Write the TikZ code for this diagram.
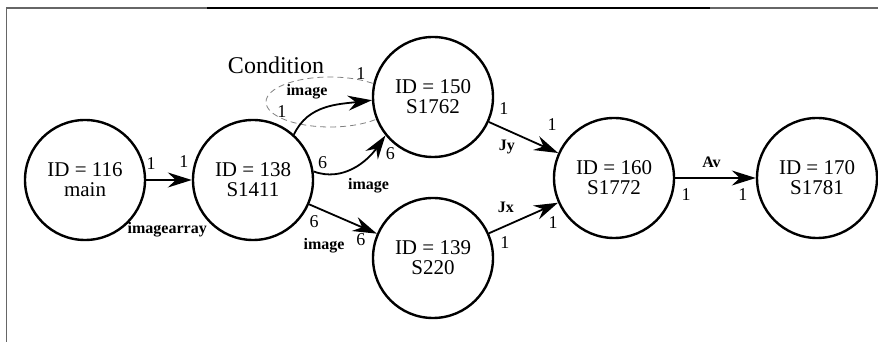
\documentclass[tikz,border=0pt]{standalone}
\usepackage{fontspec}
\setmainfont{Liberation Serif}
\usetikzlibrary{arrows.meta, automata, shapes.geometric}

\begin{document}
\begin{tikzpicture}[
            x = 0.5pt, y = 0.5pt, % picture units
            > = {Stealth[length=12pt, width=7.5pt, inset=4pt]}, % arrow head style
            every edge/.style = {draw, line width=0.9pt}, % connector style
            num/.style = {font=\fontsize{9}{9}\selectfont, inner sep=0pt},
            lbl/.style = {font=\fontsize{8}{8}\selectfont\bfseries, inner sep=0pt}
        ]

        \tikzstyle{every state}=[
            draw = black,
            line width = 1.2pt,
            fill = white,
            minimum size = 60pt,
            inner sep = 0pt,
            align = center,
            font = \fontsize{10.5}{10}\selectfont
        ]

        \useasboundingbox (0,0) rectangle (878,342);

        % frame
        \draw[black!60, line width=0.8pt] (6.5,0) -- (6.5,334) -- (878,334);
        \draw[black, line width=0.9pt] (207,334) -- (710,334);

        % condition region
        \node[ellipse, draw=gray, densely dashed, line width=0.4pt,
              minimum width=64pt, minimum height=25pt] (cond) at (330,240) {};
        \node[font=\fontsize{12}{12}\selectfont] (condname) at (276,277) {Condition};

        \node[state] (s116) at (85,162) {ID = 116\\main};
        \node[state] (s138) at (253,162) {ID = 138\\S1411};
        \node[state] (s150) at (433,245) {ID = 150\\S1762};
        \node[state] (s139) at (433,84) {ID = 139\\S220};
        \node[state] (s160) at (614,164) {ID = 160\\S1772};
        \node[state] (s170) at (817,164) {ID = 170\\S1781};

        \path[->] (s116) edge node[num, at start, shift={(5,16)}] (a1) {1}
                              node[num, at end, shift={(-8,18)}] (a2) {1}
                              node[lbl, at start, shift={(21,-50)}] (a3) {imagearray} (s138);
        \path[->] (s138.48) edge[out=65, in=187]
                              node[num, at start, shift={(-12,23)}] (b1) {1}
                              node[lbl, at start, shift={(13,43)}] (b2) {image}
                              node[num, at end, shift={(-11,27)}] (b3) {1} (s150.183);
        \path[->] (s138.8) edge[out=-20, in=235]
                              node[num, at start, shift={(9,9)}] (c1) {6}
                              node[lbl, at start, shift={(55,-14)}] (c2) {image}
                              node[num, at end, shift={(5,-18)}] (c3) {6} (s150.219);
        \path[->] (s138) edge node[num, at start, shift={(5,-17)}] (d1) {6}
                              node[lbl, at start, shift={(15,-41)}] (d2) {image}
                              node[num, at end, shift={(-16,-6)}] (d3) {6} (s139);
        \path[->] (s150) edge node[num, at start, shift={(15,13)}] (e1) {1}
                              node[lbl, at start, shift={(18,-25)}] (e2) {Jy}
                              node[num, at end, shift={(-6,28)}] (e3) {1} (s160);
        \path[->] (s139) edge node[lbl, at start, shift={(17,26)}] (f1) {Jx}
                              node[num, at start, shift={(16,-9)}] (f2) {1}
                              node[num, at end, shift={(-5,-20)}] (f3) {1} (s160);
        \path[->] (s160) edge node[lbl, pos=0.45, shift={(0,16)}] (g1) {Av}
                              node[num, at start, shift={(11,-17)}] (g2) {1}
                              node[num, at end, shift={(-13,-17)}] (g3) {1} (s170);

  \end{tikzpicture}
\end{document}
